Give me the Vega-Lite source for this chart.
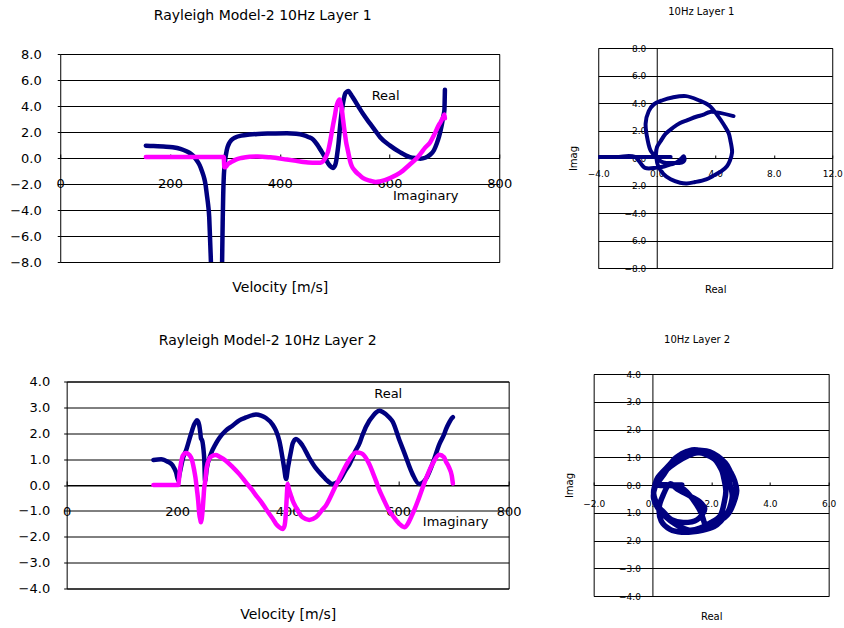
{
  "$schema": "https://vega.github.io/schema/vega-lite/v6.json",
  "background": "white",
  "padding": {"left": 9, "top": 6, "right": 2, "bottom": 2},
  "config": {
    "font": "DejaVu Sans",
    "view": {"stroke": "#000", "strokeWidth": 1},
    "axis": {"labelColor": "#000", "titleColor": "#000", "titleFontWeight": "normal", "domainColor": "#000", "tickColor": "#000", "gridColor": "#000", "gridOpacity": 1, "labelFont": "DejaVu Sans", "titleFont": "DejaVu Sans", "labelOverlap": false, "labelFlush": false},
    "title": {"fontWeight": "normal", "color": "#000", "frame": "group", "font": "DejaVu Sans"},
    "text": {"font": "DejaVu Sans"}
  },
  "datasets": {
    "L1": [
      {"v": 156, "re": 0.95, "im": 0.08},
      {"v": 170, "re": 0.93, "im": 0.08},
      {"v": 188, "re": 0.88, "im": 0.08},
      {"v": 205, "re": 0.82, "im": 0.08},
      {"v": 219, "re": 0.7, "im": 0.08},
      {"v": 230, "re": 0.52, "im": 0.08},
      {"v": 237, "re": 0.36, "im": 0.08},
      {"v": 244, "re": 0.1, "im": 0.08},
      {"v": 249, "re": -0.2, "im": 0.08},
      {"v": 254, "re": -0.55, "im": 0.08},
      {"v": 258, "re": -0.98, "im": 0.08},
      {"v": 262, "re": -1.5, "im": 0.08},
      {"v": 265, "re": -2.1, "im": 0.08},
      {"v": 267, "re": -2.77, "im": 0.08},
      {"v": 269.5, "re": -3.6, "im": 0.08},
      {"v": 271.5, "re": -4.57, "im": 0.08},
      {"v": 273, "re": -6.2, "im": 0.08},
      {"v": 274, "re": -7.3, "im": 0.08},
      {"v": 275, "re": -8.5, "im": 0.08},
      {"v": 285, "re": -40, "im": 0.08},
      {"v": 295, "re": -7.9, "im": 0.08},
      {"v": 296, "re": -5.0, "im": 0.08},
      {"v": 297, "re": -2.8, "im": 0.08},
      {"v": 298, "re": -1.5, "im": 0.08},
      {"v": 299, "re": -0.8, "im": -0.72},
      {"v": 301, "re": 0.0, "im": -0.7},
      {"v": 303, "re": 0.5, "im": -0.62},
      {"v": 305, "re": 0.85, "im": -0.5},
      {"v": 308, "re": 1.15, "im": -0.4},
      {"v": 312, "re": 1.38, "im": -0.3},
      {"v": 320, "re": 1.6, "im": -0.12},
      {"v": 330, "re": 1.72, "im": 0.0},
      {"v": 345, "re": 1.8, "im": 0.1},
      {"v": 360, "re": 1.85, "im": 0.12},
      {"v": 383, "re": 1.88, "im": 0.05},
      {"v": 413, "re": 1.9, "im": -0.12},
      {"v": 430, "re": 1.86, "im": -0.22},
      {"v": 443, "re": 1.76, "im": -0.3},
      {"v": 452, "re": 1.62, "im": -0.34},
      {"v": 461, "re": 1.42, "im": -0.36},
      {"v": 468, "re": 1.05, "im": -0.37},
      {"v": 474, "re": 0.65, "im": -0.36},
      {"v": 479, "re": 0.3, "im": -0.25},
      {"v": 483, "re": 0.02, "im": 0.0},
      {"v": 488, "re": -0.4, "im": 0.5},
      {"v": 492, "re": -0.62, "im": 1.3},
      {"v": 497, "re": -0.76, "im": 2.5},
      {"v": 501, "re": -0.55, "im": 3.4},
      {"v": 503, "re": -0.2, "im": 3.9},
      {"v": 505, "re": 0.4, "im": 4.2},
      {"v": 507, "re": 1.07, "im": 4.4},
      {"v": 509, "re": 2.0, "im": 4.5},
      {"v": 511, "re": 2.87, "im": 4.2},
      {"v": 513, "re": 3.6, "im": 3.8},
      {"v": 515, "re": 4.15, "im": 3.1},
      {"v": 517, "re": 4.6, "im": 2.4},
      {"v": 519, "re": 4.92, "im": 1.8},
      {"v": 521, "re": 5.05, "im": 1.2},
      {"v": 523, "re": 5.12, "im": 0.8},
      {"v": 525, "re": 5.15, "im": 0.4},
      {"v": 528, "re": 5.0, "im": -0.2},
      {"v": 531, "re": 4.8, "im": -0.6},
      {"v": 537, "re": 4.4, "im": -0.98},
      {"v": 545, "re": 3.85, "im": -1.3},
      {"v": 552, "re": 3.38, "im": -1.55},
      {"v": 565, "re": 2.62, "im": -1.75},
      {"v": 575, "re": 2.05, "im": -1.85},
      {"v": 583, "re": 1.6, "im": -1.8},
      {"v": 601, "re": 0.95, "im": -1.55},
      {"v": 619, "re": 0.45, "im": -1.15},
      {"v": 637, "re": 0.07, "im": -0.5},
      {"v": 650, "re": -0.02, "im": 0.0},
      {"v": 656, "re": -0.05, "im": 0.3},
      {"v": 665, "re": 0.02, "im": 0.8},
      {"v": 674, "re": 0.25, "im": 1.2},
      {"v": 681, "re": 0.6, "im": 1.75},
      {"v": 686, "re": 1.1, "im": 2.2},
      {"v": 690, "re": 1.6, "im": 2.55},
      {"v": 693, "re": 2.1, "im": 2.75},
      {"v": 696, "re": 2.7, "im": 3.0},
      {"v": 698, "re": 3.2, "im": 3.15},
      {"v": 700, "re": 3.65, "im": 3.35},
      {"v": 701, "re": 5.25, "im": 3.05}
    ],
    "L2": [
      {"v": 157, "re": 0.97, "im": 0},
      {"v": 171, "re": 1.0, "im": 0},
      {"v": 183, "re": 0.9, "im": 0},
      {"v": 192, "re": 0.75, "im": 0},
      {"v": 198, "re": 0.49, "im": 0},
      {"v": 202, "re": 0.17, "im": 0},
      {"v": 204, "re": 0.4, "im": 0.4},
      {"v": 207, "re": 0.7, "im": 0.85},
      {"v": 210, "re": 1.0, "im": 1.13},
      {"v": 216, "re": 1.33, "im": 1.24},
      {"v": 225, "re": 1.97, "im": 1.07},
      {"v": 231, "re": 2.35, "im": 0.55},
      {"v": 233, "re": 2.42, "im": 0.3},
      {"v": 236, "re": 2.5, "im": -0.22},
      {"v": 238, "re": 2.45, "im": -0.6},
      {"v": 240, "re": 2.3, "im": -1.12},
      {"v": 242, "re": 2.0, "im": -1.35},
      {"v": 243, "re": 1.8, "im": -1.44},
      {"v": 244.5, "re": 1.75, "im": -1.3},
      {"v": 246, "re": 1.65, "im": -0.99},
      {"v": 247.5, "re": 1.4, "im": -0.55},
      {"v": 249, "re": 1.0, "im": -0.1},
      {"v": 250.5, "re": 0.15, "im": 0.1},
      {"v": 253.4, "re": 0.62, "im": 0.68},
      {"v": 261, "re": 1.2, "im": 1.09},
      {"v": 270, "re": 1.6, "im": 1.16},
      {"v": 276, "re": 1.81, "im": 1.1},
      {"v": 288, "re": 2.1, "im": 0.94},
      {"v": 300, "re": 2.29, "im": 0.7},
      {"v": 312.5, "re": 2.5, "im": 0.42},
      {"v": 324.5, "re": 2.61, "im": 0.1},
      {"v": 336.6, "re": 2.7, "im": -0.22},
      {"v": 342.6, "re": 2.72, "im": -0.4},
      {"v": 352, "re": 2.68, "im": -0.65},
      {"v": 360.7, "re": 2.59, "im": -0.93},
      {"v": 372.9, "re": 2.33, "im": -1.3},
      {"v": 378.8, "re": 2.1, "im": -1.5},
      {"v": 385, "re": 1.7, "im": -1.63},
      {"v": 391, "re": 1.0, "im": -1.7},
      {"v": 394, "re": 0.6, "im": -1.6},
      {"v": 396, "re": 0.3, "im": -1.3},
      {"v": 397.5, "re": 0.23, "im": -0.8},
      {"v": 398.5, "re": 0.35, "im": -0.4},
      {"v": 400, "re": 0.6, "im": 0.04},
      {"v": 402, "re": 0.85, "im": -0.15},
      {"v": 406, "re": 1.3, "im": -0.41},
      {"v": 409, "re": 1.6, "im": -0.6},
      {"v": 415, "re": 1.78, "im": -0.86},
      {"v": 427, "re": 1.52, "im": -1.25},
      {"v": 439, "re": 1.05, "im": -1.35},
      {"v": 451, "re": 0.65, "im": -1.25},
      {"v": 463, "re": 0.36, "im": -0.95},
      {"v": 469, "re": 0.22, "im": -0.8},
      {"v": 481, "re": 0.04, "im": -0.3},
      {"v": 487, "re": 0.08, "im": -0.03},
      {"v": 493.6, "re": 0.17, "im": 0.25},
      {"v": 505.5, "re": 0.6, "im": 0.75},
      {"v": 511.7, "re": 0.8, "im": 0.98},
      {"v": 523.5, "re": 1.35, "im": 1.26},
      {"v": 529.7, "re": 1.6, "im": 1.25},
      {"v": 535.7, "re": 1.95, "im": 1.2},
      {"v": 547.8, "re": 2.48, "im": 0.8},
      {"v": 553.8, "re": 2.65, "im": 0.49},
      {"v": 560, "re": 2.8, "im": 0.15},
      {"v": 566, "re": 2.87, "im": -0.2},
      {"v": 572, "re": 2.82, "im": -0.48},
      {"v": 584, "re": 2.61, "im": -1.0},
      {"v": 590, "re": 2.45, "im": -1.18},
      {"v": 602, "re": 1.75, "im": -1.5},
      {"v": 611, "re": 1.25, "im": -1.63},
      {"v": 626, "re": 0.42, "im": -1.12},
      {"v": 638, "re": 0.04, "im": -0.48},
      {"v": 650, "re": 0.23, "im": 0.23},
      {"v": 662, "re": 0.81, "im": 0.81},
      {"v": 674.6, "re": 1.58, "im": 1.17},
      {"v": 683, "re": 1.95, "im": 1.07},
      {"v": 686.6, "re": 2.16, "im": 0.9},
      {"v": 692, "re": 2.4, "im": 0.68},
      {"v": 697, "re": 2.58, "im": 0.36},
      {"v": 699, "re": 2.62, "im": 0.06}
    ],
    "ann1": [
      {"label": "Real", "v": 593, "value": 4.74},
      {"label": "Imaginary", "v": 666, "value": -2.92}
    ],
    "ann2": [
      {"label": "Real", "v": 582, "value": 3.51},
      {"label": "Imaginary", "v": 704, "value": -1.42}
    ]
  },
  "vconcat": [
    {
      "hconcat": [
        {
          "width": 439,
          "height": 208,
          "title": {"text": "Rayleigh Model-2 10Hz Layer 1", "fontSize": 14, "offset": 25, "dx": -17},
          "encoding": {
            "x": {"field": "v", "type": "quantitative", "scale": {"domain": [0, 800], "nice": false, "zero": false},
              "axis": {"orient": "bottom", "offset": -104, "values": [0, 200, 400, 600, 800], "format": "d", "grid": false, "tickSize": -4, "labelPadding": 23, "labelFontSize": 13, "labelOverlap": false, "labelFlush": false, "title": "Velocity [m/s]", "titleFontSize": 14, "titleY": 129, "titleBaseline": "middle"}},
            "y": {"field": "value", "type": "quantitative", "scale": {"domain": [-8, 8], "nice": false},
              "axis": {"values": [-8, -6, -4, -2, 0, 2, 4, 6, 8], "format": ".1f", "grid": true, "domain": false, "tickSize": 3, "labelPadding": 16, "labelFontSize": 13, "labelOverlap": false, "title": null}}
          },
          "layer": [
            {
              "data": {"name": "L1"},
              "transform": [{"fold": ["re", "im"], "as": ["part", "value"]}],
              "mark": {"type": "line", "strokeWidth": 4.5, "clip": true, "interpolate": "monotone", "strokeCap": "round", "strokeJoin": "round"},
              "encoding": {
                "color": {"field": "part", "type": "nominal", "scale": {"domain": ["re", "im"], "range": ["#000080", "#ff00ff"]}, "legend": null}
              }
            },
            {
              "data": {"name": "ann1"},
              "mark": {"type": "text", "fontSize": 13, "color": "#000"},
              "encoding": {
                "text": {"field": "label"}
              }
            }
          ]
        },
        {
          "width": 234,
          "height": 220,
          "title": {"text": "10Hz Layer 1", "fontSize": 10, "offset": 26.7, "dx": -14},
          "data": {"name": "L1"},
          "mark": {"type": "line", "strokeWidth": 4, "clip": true, "interpolate": "catmull-rom", "color": "#000080", "strokeCap": "round", "strokeJoin": "round"},
          "encoding": {
            "x": {"field": "re", "type": "quantitative", "scale": {"domain": [-4, 12], "nice": false, "zero": false},
              "axis": {"orient": "bottom", "offset": -110, "values": [-4, 0, 4, 8, 12], "format": ".1f", "grid": false, "tickSize": -3, "labelPadding": 14.5, "labelFontSize": 9, "labelOverlap": false, "title": "Real", "titleFontSize": 10, "titleY": 131, "titleBaseline": "middle"}},
            "y": {"field": "im", "type": "quantitative", "scale": {"domain": [-8, 8], "nice": false},
              "axis": {"offset": -58.5, "values": [-8, -6, -4, -2, 0, 2, 4, 6, 8], "format": ".1f", "grid": true, "domain": true, "ticks": false, "labelPadding": 11, "labelFontSize": 9, "labelOverlap": false, "title": "Imag", "titleFontSize": 10, "titleX": -83.5, "titleY": 110, "titleBaseline": "middle", "titleAlign": "center", "titleAngle": -90}},
            "order": {"field": "v", "type": "quantitative"}
          }
        }
      ],
      "spacing": 99,
      "bounds": "flush",
      "center": true
    },
    {
      "hconcat": [
        {
          "width": 442,
          "height": 207,
          "title": {"text": "Rayleigh Model-2 10Hz Layer 2", "fontSize": 14, "offset": 27.3, "dx": -20},
          "encoding": {
            "x": {"field": "v", "type": "quantitative", "scale": {"domain": [0, 800], "nice": false, "zero": false},
              "axis": {"orient": "bottom", "offset": -103.5, "values": [0, 200, 400, 600, 800], "format": "d", "grid": false, "tickSize": -4, "labelPadding": 24, "labelFontSize": 13, "labelOverlap": false, "labelFlush": false, "title": "Velocity [m/s]", "titleFontSize": 14, "titleY": 129, "titleBaseline": "middle"}},
            "y": {"field": "value", "type": "quantitative", "scale": {"domain": [-4, 4], "nice": false},
              "axis": {"values": [-4, -3, -2, -1, 0, 1, 2, 3, 4], "format": ".1f", "grid": true, "domain": false, "tickSize": 3, "labelPadding": 14, "labelFontSize": 13, "labelOverlap": false, "title": null}}
          },
          "layer": [
            {
              "data": {"name": "L2"},
              "transform": [{"fold": ["re", "im"], "as": ["part", "value"]}],
              "mark": {"type": "line", "strokeWidth": 4.5, "clip": true, "interpolate": "monotone", "strokeCap": "round", "strokeJoin": "round"},
              "encoding": {
                "color": {"field": "part", "type": "nominal", "scale": {"domain": ["re", "im"], "range": ["#000080", "#ff00ff"]}, "legend": null}
              }
            },
            {
              "data": {"name": "ann2"},
              "mark": {"type": "text", "fontSize": 13, "color": "#000"},
              "encoding": {
                "text": {"field": "label"}
              }
            }
          ]
        },
        {
          "width": 235,
          "height": 222,
          "title": {"text": "10Hz Layer 2", "fontSize": 10, "offset": 25.5, "dx": -14},
          "data": {"name": "L2"},
          "mark": {"type": "line", "strokeWidth": 5.5, "clip": true, "interpolate": "catmull-rom", "color": "#000080", "strokeCap": "round", "strokeJoin": "round"},
          "encoding": {
            "x": {"field": "re", "type": "quantitative", "scale": {"domain": [-2, 6], "nice": false, "zero": false},
              "axis": {"orient": "bottom", "offset": -111, "values": [-2, 0, 2, 4, 6], "format": ".1f", "grid": false, "tickSize": -3, "labelPadding": 17, "labelFontSize": 9, "labelOverlap": false, "title": "Real", "titleFontSize": 10, "titleY": 131, "titleBaseline": "middle"}},
            "y": {"field": "im", "type": "quantitative", "scale": {"domain": [-4, 4], "nice": false},
              "axis": {"offset": -58.75, "values": [-4, -3, -2, -1, 0, 1, 2, 3, 4], "format": ".1f", "grid": true, "domain": true, "ticks": false, "labelPadding": 12, "labelFontSize": 9, "labelOverlap": false, "title": "Imag", "titleFontSize": 10, "titleX": -82.75, "titleY": 111, "titleBaseline": "middle", "titleAlign": "center", "titleAngle": -90}},
            "order": {"field": "v", "type": "quantitative"}
          }
        }
      ],
      "spacing": 85,
      "bounds": "flush",
      "center": true
    }
  ],
  "spacing": 38,
  "center": true
}
